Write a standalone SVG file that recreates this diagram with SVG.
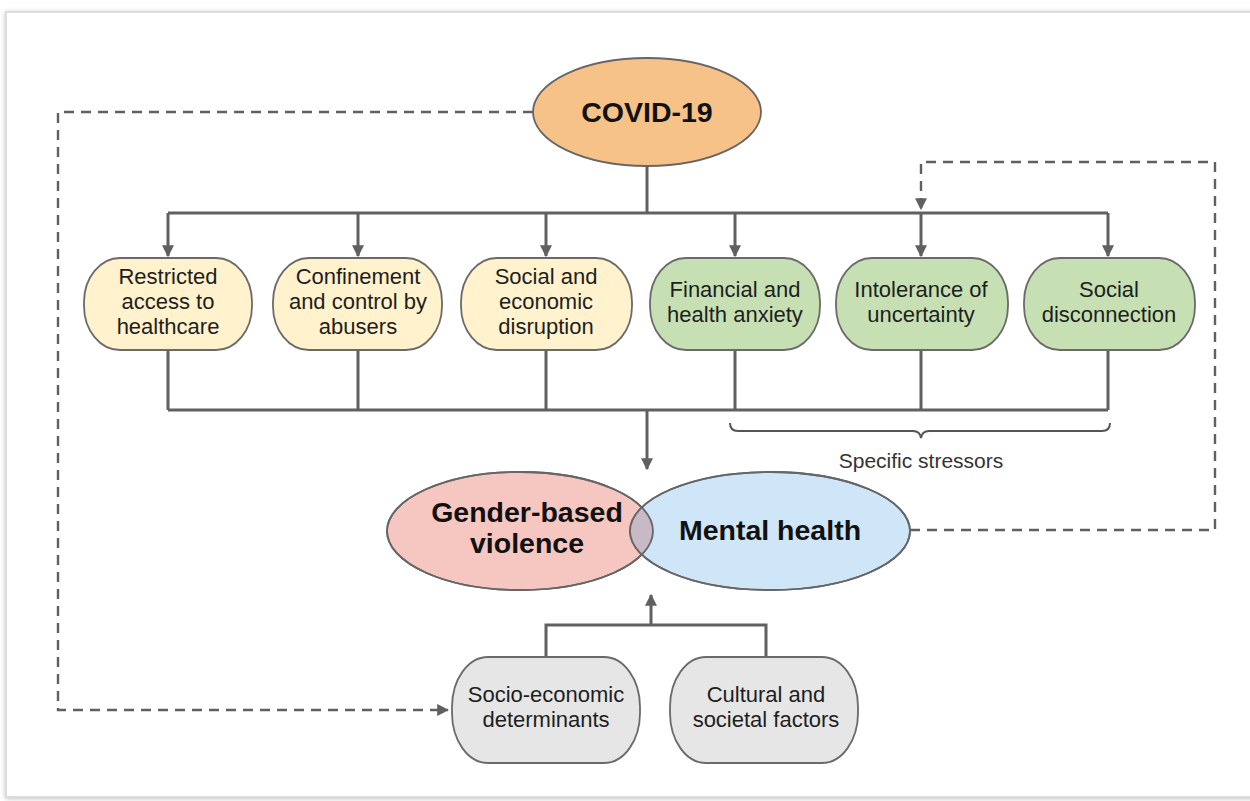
<svg xmlns="http://www.w3.org/2000/svg" width="1250" height="801" viewBox="0 0 1250 801">
<defs>
<style>
.ln{fill:none;stroke:#606060;stroke-width:3}
.dash{fill:none;stroke:#606060;stroke-width:2.4;stroke-dasharray:10 7}
.box{stroke:#6a6a6a;stroke-width:1.8}
.yel{fill:#fff2cc}
.grn{fill:#c6e0b4}
.gry{fill:#e6e6e6}
.t{font-family:"Liberation Sans",Arial,sans-serif;font-size:22px;fill:#1e1e1e;text-anchor:middle}
.b{font-family:"Liberation Sans",Arial,sans-serif;font-weight:bold;font-size:28.5px;fill:#111;text-anchor:middle}
</style>
<marker id="ah" viewBox="0 0 10 10" refX="9" refY="5" markerWidth="4" markerHeight="4" orient="auto" markerUnits="strokeWidth">
<path d="M0,0 L10,5 L0,10 z" fill="#606060"/>
</marker>
<marker id="ahd" viewBox="0 0 10 10" refX="9" refY="5" markerWidth="5" markerHeight="5" orient="auto" markerUnits="strokeWidth">
<path d="M0,0 L10,5 L0,10 z" fill="#606060"/>
</marker>
<filter id="sh" x="-5%" y="-5%" width="110%" height="110%">
<feDropShadow dx="0" dy="1" stdDeviation="2.5" flood-color="#000" flood-opacity="0.25"/>
</filter>
<clipPath id="gbvClip"><ellipse cx="520" cy="531" rx="133" ry="59"/></clipPath>
</defs>
<rect x="0" y="0" width="1250" height="801" fill="#ffffff"/>
<rect x="6" y="12" width="1270" height="785" fill="#ffffff" stroke="#d4d4d4" stroke-width="1.5" filter="url(#sh)"/>

<g id="connectors">
<path class="ln" d="M647,166 V213"/>
<path class="ln" d="M168,213 H1108"/>
<path class="ln" d="M168,213 V256" marker-end="url(#ah)"/>
<path class="ln" d="M358,213 V256" marker-end="url(#ah)"/>
<path class="ln" d="M546,213 V256" marker-end="url(#ah)"/>
<path class="ln" d="M735,213 V256" marker-end="url(#ah)"/>
<path class="ln" d="M921,213 V256" marker-end="url(#ah)"/>
<path class="ln" d="M1108,213 V256" marker-end="url(#ah)"/>
<path class="ln" d="M168,350 V410 M358,350 V410 M546,350 V410 M735,350 V410 M921,350 V410 M1108,350 V410"/>
<path class="ln" d="M168,410 H1108"/>
<path class="ln" d="M647,410 V469" marker-end="url(#ah)"/>
<path d="M730,423 Q730,431 738,431 L913,431 Q920,431 921,438 Q922,431 929,431 L1102,431 Q1110,431 1110,423" fill="none" stroke="#555" stroke-width="2"/>
<path class="ln" d="M546,657 V625 H766 V657"/>
<path class="ln" d="M651,625 V595" marker-end="url(#ah)"/>
<path class="dash" d="M533,112 H58 V710 H448" marker-end="url(#ahd)"/>
<path class="dash" d="M910,530 H1215 V162 H921 V209" marker-end="url(#ahd)"/>
</g>

<g id="covid">
<ellipse cx="647" cy="112" rx="114" ry="54" fill="#f6c287" stroke="#666" stroke-width="1.8"/>
<text class="b" x="647" y="122">COVID-19</text>
</g>

<g id="n-restricted">
<rect class="box yel" x="84" y="258" width="168" height="92" rx="36" ry="44"/>
<text class="t" x="168" y="284">Restricted</text>
<text class="t" x="168" y="309">access to</text>
<text class="t" x="168" y="334">healthcare</text>
</g>
<g id="n-confinement">
<rect class="box yel" x="273" y="258" width="169" height="92" rx="36" ry="44"/>
<text class="t" x="358" y="284">Confinement</text>
<text class="t" x="358" y="309">and control by</text>
<text class="t" x="358" y="334">abusers</text>
</g>
<g id="n-social-econ">
<rect class="box yel" x="461" y="258" width="171" height="92" rx="36" ry="44"/>
<text class="t" x="546" y="284">Social and</text>
<text class="t" x="546" y="309">economic</text>
<text class="t" x="546" y="334">disruption</text>
</g>
<g id="n-financial">
<rect class="box grn" x="650" y="258" width="170" height="92" rx="36" ry="44"/>
<text class="t" x="735" y="297">Financial and</text>
<text class="t" x="735" y="322">health anxiety</text>
</g>
<g id="n-intolerance">
<rect class="box grn" x="836" y="258" width="172" height="92" rx="36" ry="44"/>
<text class="t" x="921" y="297">Intolerance of</text>
<text class="t" x="921" y="322">uncertainty</text>
</g>
<g id="n-disconnection">
<rect class="box grn" x="1024" y="258" width="171" height="92" rx="36" ry="44"/>
<text class="t" x="1109" y="297">Social</text>
<text class="t" x="1109" y="322">disconnection</text>
</g>

<g id="stressors-label">
<text class="t" x="921" y="468" style="font-size:21px;fill:#333">Specific stressors</text>
</g>

<g id="gbv">
<ellipse cx="520" cy="531" rx="133" ry="59" fill="#f6c6c1" stroke="#666" stroke-width="1.8"/>
</g>
<g id="mental-health">
<ellipse cx="770" cy="531" rx="140" ry="59" fill="#cfe6f8" stroke="#666" stroke-width="1.8"/>
<ellipse cx="770" cy="531" rx="140" ry="59" fill="#c7bac6" clip-path="url(#gbvClip)"/>
<ellipse cx="520" cy="531" rx="133" ry="59" fill="none" stroke="#666" stroke-width="1.8"/>
<ellipse cx="770" cy="531" rx="140" ry="59" fill="none" stroke="#666" stroke-width="1.8"/>
<text class="b" x="527" y="522">Gender-based</text>
<text class="b" x="527" y="553">violence</text>
<text class="b" x="770" y="540">Mental health</text>
</g>

<g id="n-socioeconomic">
<rect class="box gry" x="452" y="657" width="188" height="106" rx="36" ry="50"/>
<text class="t" x="546" y="702">Socio-economic</text>
<text class="t" x="546" y="727">determinants</text>
</g>
<g id="n-cultural">
<rect class="box gry" x="670" y="657" width="188" height="106" rx="36" ry="50"/>
<text class="t" x="766" y="702">Cultural and</text>
<text class="t" x="766" y="727">societal factors</text>
</g>
</svg>
